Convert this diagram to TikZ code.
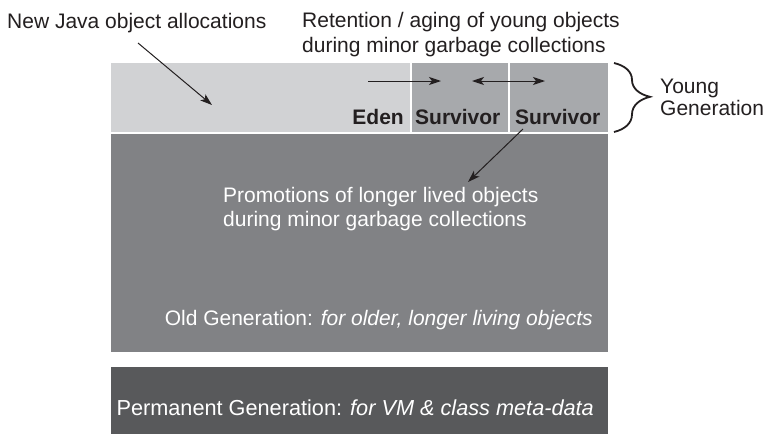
\documentclass[tikz,border=0pt]{standalone}
\usepackage{fontspec}
\setmainfont{Liberation Sans}
\usetikzlibrary{decorations.pathreplacing,arrows.meta}
\definecolor{edencol}{HTML}{D1D2D4}
\definecolor{survcol}{HTML}{A7A9AC}
\definecolor{oldcol}{HTML}{818285}
\definecolor{permcol}{HTML}{58595B}
\definecolor{inkcol}{HTML}{231F20}
\tikzset{
  lbl/.style={font=\fontsize{21}{25}\selectfont,text=inkcol,inner sep=0pt,align=left},
  wlbl/.style={font=\fontsize{21}{24}\selectfont,text=white,inner sep=0pt,align=left},
  blbl/.style={font=\fontsize{21}{25}\selectfont\bfseries,text=inkcol,inner sep=0pt},
  tip/.style={Stealth[length=12pt,width=8pt,inset=3pt]},
  arr/.style={draw=inkcol,line width=1pt,-{Stealth[length=12pt,width=8pt,inset=3pt]}},
  darr/.style={draw=inkcol,line width=1pt,{Stealth[length=12pt,width=8pt,inset=3pt]}-{Stealth[length=12pt,width=8pt,inset=3pt]}}
}
\begin{document}
\begin{tikzpicture}[x=1pt,y=-1pt]
\useasboundingbox[fill=white] (0,0) rectangle (764,434);
% regions
\fill[edencol] (111,63) rectangle (410,132);
\fill[survcol] (412,63) rectangle (508,132);
\fill[survcol] (510,63) rectangle (608,132);
\fill[oldcol] (111,134) rectangle (608,352);
\fill[permcol] (111,367) rectangle (608,434);
% labels
\node[lbl,anchor=base west] (newjava) at (7,28) {New Java object allocations};
\node[lbl,anchor=base west] (ret1) at (302,27) {Retention / aging of young objects};
\node[lbl,anchor=base west] (ret2) at (302,52) {during minor garbage collections};
\node[blbl,anchor=base east] (edenl) at (404,124) {Eden};
\node[blbl,anchor=base west] (surv1) at (415,124) {Survivor};
\node[blbl,anchor=base west] (surv2) at (515,124) {Survivor};
\node[wlbl,anchor=base west] (promo1) at (223,202) {Promotions of longer lived objects};
\node[wlbl,anchor=base west] (promo2) at (223,226) {during minor garbage collections};
\node[wlbl,anchor=base east] (oldl) at (593,325) {Old Generation: \textit{for older, longer living objects}};
\node[wlbl,anchor=base east,font=\fontsize{21.7}{24}\selectfont] (perml) at (594,415) {Permanent Generation: \textit{for VM \& class meta-data}};
\node[lbl,anchor=base west] (young1) at (660,93) {Young};
\node[lbl,anchor=base west] (young2) at (660,115) {Generation};
% arrows
\coordinate (a1s) at (138,43);
\coordinate (a1e) at (212,105);
\draw[arr] (a1s) -- (a1e);
\coordinate (h1s) at (368,81);
\coordinate (h1e) at (441,81);
\draw[arr] (h1s) -- (h1e);
\coordinate (h2s) at (472,81);
\coordinate (h2e) at (545,81);
\draw[darr] (h2s) -- (h2e);
\coordinate (p1s) at (523,129);
\coordinate (p1e) at (468,182);
\draw[arr] (p1s) -- (p1e);
% brace
\coordinate (bt) at (614,63);
\coordinate (bb) at (614,132);
\draw[inkcol,line width=1.8pt,decorate,decoration={brace,amplitude=36pt,aspect=0.49}] (bt) -- (bb);
\end{tikzpicture}
\end{document}
